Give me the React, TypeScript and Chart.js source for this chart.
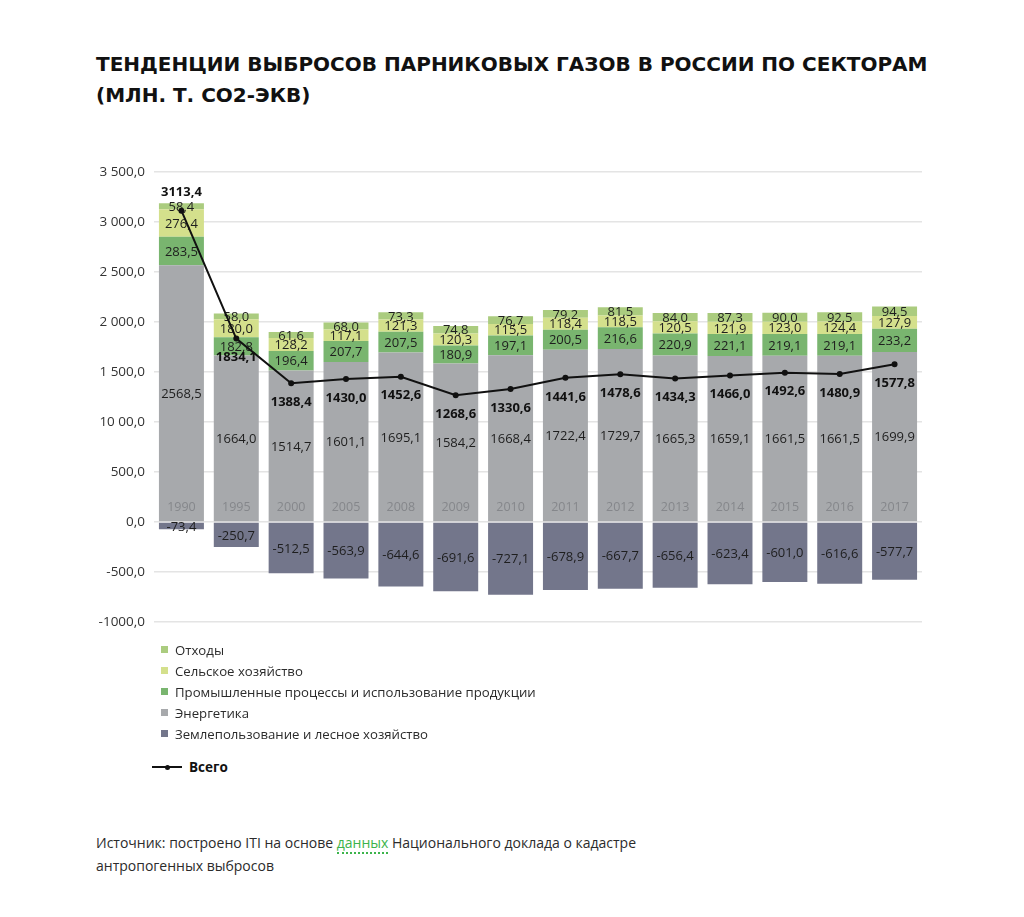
import React, { useEffect, useRef } from "react";
import { Chart, registerables } from "chart.js";

Chart.register(...registerables);

const years = ["1990", "1995", "2000", "2005", "2008", "2009", "2010", "2011", "2012", "2013", "2014", "2015", "2016", "2017"];
const energy = [2568.5, 1664.0, 1514.7, 1601.1, 1695.1, 1584.2, 1668.4, 1722.4, 1729.7, 1665.3, 1659.1, 1661.5, 1661.5, 1699.9];
const industrial = [283.5, 182.8, 196.4, 207.7, 207.5, 180.9, 197.1, 200.5, 216.6, 220.9, 221.1, 219.1, 219.1, 233.2];
const agriculture = [276.4, 180.0, 128.2, 117.1, 121.3, 120.3, 115.5, 118.4, 118.5, 120.5, 121.9, 123.0, 124.4, 127.9];
const waste = [58.4, 58.0, 61.6, 68.0, 73.3, 74.8, 76.7, 79.2, 81.5, 84.0, 87.3, 90.0, 92.5, 94.5];
const landUse = [-73.4, -250.7, -512.5, -563.9, -644.6, -691.6, -727.1, -678.9, -667.7, -656.4, -623.4, -601.0, -616.6, -577.7];
const total = [3113.4, 1834.1, 1388.4, 1430.0, 1452.6, 1268.6, 1330.6, 1441.6, 1478.6, 1434.3, 1466.0, 1492.6, 1480.9, 1577.8];

const tickValues = [-1000, -500, 0, 500, 1000, 1500, 2000, 2500, 3000, 3500];
const tickLabels = ["-1000,0", "-500,0", "0,0", "500,0", "10 00,0", "1 500,0", "2 000,0", "2 500,0", "3 000,0", "3 500,0"];

const seriesNames = [
  "Энергетика",
  "Промышленные процессы и использование продукции",
  "Сельское хозяйство",
  "Отходы",
  "Землепользование и лесное хозяйство",
];
const totalName = "Всего";

const COLORS = {
  energy: "#a7a9ac",
  industrial: "#79b56f",
  agriculture: "#d4e08c",
  waste: "#abcc7f",
  landUse: "#73768b",
};

const FONT = "'Open Sans', 'Noto Sans', sans-serif";

const fmt = (v: number) => v.toFixed(1).replace(".", ",");

const labelsPlugin = {
  id: "valueLabels",
  afterDatasetDraw(chart: any, args: any) {
    if (args.index !== 0) return;
    const ctx = chart.ctx;
    ctx.save();
    ctx.textAlign = "center";
    ctx.textBaseline = "middle";
    const yScale = chart.scales.y;
    const m0 = chart.getDatasetMeta(0);
    ctx.font = `12.5px ${FONT}`;
    ctx.fillStyle = "#85878b";
    m0.data.forEach((el: any, j: number) => {
      ctx.fillText(years[j], el.x, yScale.getPixelForValue(0) - 15);
    });
    ctx.font = `13px ${FONT}`;
    ctx.fillStyle = "#1e1e1e";
    for (let i = 0; i < 5; i++) {
      const meta = chart.getDatasetMeta(i);
      const data = chart.data.datasets[i].data as number[];
      meta.data.forEach((el: any, j: number) => {
        const cy = (el.y + el.base) / 2;
        ctx.fillText(fmt(data[j]), el.x, cy + 1);
      });
    }
    ctx.restore();
  },
  afterDatasetsDraw(chart: any) {
    const ctx = chart.ctx;
    ctx.save();
    ctx.textAlign = "center";
    ctx.textBaseline = "middle";
    ctx.font = `bold 13px ${FONT}`;
    ctx.fillStyle = "#111";
    const meta = chart.getDatasetMeta(5);
    meta.data.forEach((el: any, j: number) => {
      const dy = j === 0 ? -18 : 19;
      ctx.fillText(fmt(total[j]), el.x, el.y + dy);
    });
    ctx.restore();
  },
};

function ChartCanvas() {
  const ref = useRef<HTMLCanvasElement | null>(null);
  useEffect(() => {
    if (!ref.current) return;
    const chart = new Chart(ref.current, {
      type: "bar",
      data: {
        labels: years,
        datasets: [
          { label: seriesNames[0], data: energy, backgroundColor: COLORS.energy, stack: "s", order: 1 },
          { label: seriesNames[1], data: industrial, backgroundColor: COLORS.industrial, stack: "s", order: 1 },
          { label: seriesNames[2], data: agriculture, backgroundColor: COLORS.agriculture, stack: "s", order: 1 },
          { label: seriesNames[3], data: waste, backgroundColor: COLORS.waste, stack: "s", order: 1 },
          { label: seriesNames[4], data: landUse, backgroundColor: COLORS.landUse, stack: "s", order: 1 },
          {
            type: "line",
            label: totalName,
            data: total,
            borderColor: "#111",
            backgroundColor: "#111",
            borderWidth: 2,
            pointRadius: 2,
            pointHoverRadius: 2,
            tension: 0,
            stack: "t",
            order: 0,
          } as any,
        ],
      },
      options: {
        responsive: false,
        maintainAspectRatio: false,
        animation: false,
        layout: { padding: { top: 22, bottom: 18, left: 0, right: 102 } },
        datasets: { bar: { barPercentage: 0.82, categoryPercentage: 1 } },
        plugins: { legend: { display: false }, tooltip: { enabled: false } },
        scales: {
          x: { stacked: true, display: false },
          y: {
            stacked: true,
            min: -1000,
            max: 3500,
            afterFit: (s: any) => {
              s.width = 154;
            },
            afterBuildTicks: (s: any) => {
              s.ticks = tickValues.map((v) => ({ value: v }));
            },
            ticks: {
              padding: 9,
              color: "#333",
              font: { family: FONT, size: 13.5 },
              callback: (v: any) => {
                const i = tickValues.indexOf(Number(v));
                return i >= 0 ? tickLabels[i] : "";
              },
            },
            grid: { color: "#e4e4e4", lineWidth: 1.5, drawTicks: false },
            border: { display: false },
          },
        },
      },
      plugins: [labelsPlugin],
    });
    return () => chart.destroy();
  }, []);
  return (
    <canvas
      ref={ref}
      width={1024}
      height={490}
      style={{ position: "absolute", left: 0, top: 150, width: 1024, height: 490 }}
    />
  );
}

const legendItems = [
  { name: seriesNames[3], color: COLORS.waste },
  { name: seriesNames[2], color: COLORS.agriculture },
  { name: seriesNames[1], color: COLORS.industrial },
  { name: seriesNames[0], color: COLORS.energy },
  { name: seriesNames[4], color: COLORS.landUse },
];

export default function App() {
  const text = { fontFamily: FONT, color: "#2b2b2b" };
  return (
    <div style={{ position: "absolute", left: 0, top: 0, width: 1024, height: 917, background: "#fff" }}>
      <div
        style={{
          position: "absolute",
          left: 96,
          top: 49,
          width: 900,
          fontFamily: "'DejaVu Sans', sans-serif",
          fontWeight: 700,
          fontSize: 20,
          lineHeight: "31px",
          color: "#111",
        }}
      >
        ТЕНДЕНЦИИ ВЫБРОСОВ ПАРНИКОВЫХ ГАЗОВ В РОССИИ ПО СЕКТОРАМ
        <br />
        (МЛН. Т. CO2-ЭКВ)
      </div>
      <ChartCanvas />
      <div style={{ position: "absolute", left: 161, top: 639, ...text, fontSize: 13.2 }}>
        {legendItems.map((it) => (
          <div key={it.name} style={{ height: 21, display: "flex", alignItems: "center" }}>
            <span style={{ display: "inline-block", width: 7, height: 7, background: it.color, marginRight: 7 }} />
            {it.name}
          </div>
        ))}
      </div>
      <div style={{ position: "absolute", left: 152, top: 757, ...text, fontSize: 13.5, display: "flex", alignItems: "center", height: 20 }}>
        <span style={{ position: "relative", display: "inline-block", width: 30, height: 2, background: "#111", marginRight: 7 }}>
          <span style={{ position: "absolute", left: 13, top: -1.5, width: 5, height: 5, borderRadius: 3, background: "#111" }} />
        </span>
        <b style={{ color: "#111" }}>{totalName}</b>
      </div>
      <div style={{ position: "absolute", left: 96, top: 831, width: 640, ...text, fontSize: 14, lineHeight: "23px" }}>
        Источник: построено ITI на основе{" "}
        <span style={{ color: "#3cb44b", borderBottom: "2px dotted #3cb44b" }}>данных</span> Национального доклада о кадастре
        <br />
        антропогенных выбросов
      </div>
    </div>
  );
}
